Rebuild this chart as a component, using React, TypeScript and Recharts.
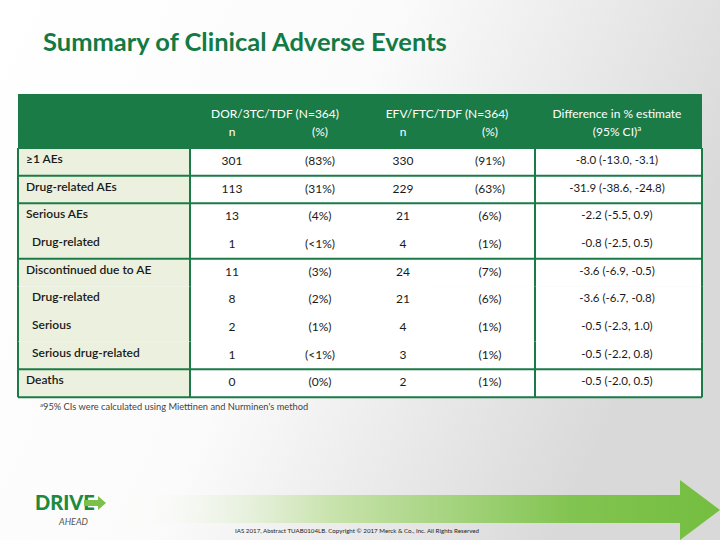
import { Bar, BarChart, XAxis, YAxis } from "recharts";

// table rows
const rowLabels = [
  "≥1 AEs",
  "Drug-related AEs",
  "Serious AEs",
  "Drug-related",
  "Discontinued due to AE",
  "Drug-related",
  "Serious",
  "Serious drug-related",
  "Deaths",
];
const indented = [false, false, false, true, false, true, true, true, false];
const groupStart = [true, true, true, false, true, false, false, false, true];
const dorN = [301, 113, 13, 1, 11, 8, 2, 1, 0];
const dorPct = ["(83%)", "(31%)", "(4%)", "(<1%)", "(3%)", "(2%)", "(1%)", "(<1%)", "(0%)"];
const efvN = [330, 229, 21, 4, 24, 21, 4, 3, 2];
const efvPct = ["(91%)", "(63%)", "(6%)", "(1%)", "(7%)", "(6%)", "(1%)", "(1%)", "(1%)"];
const diffCi = [
  "-8.0 (-13.0, -3.1)",
  "-31.9 (-38.6, -24.8)",
  "-2.2 (-5.5, 0.9)",
  "-0.8 (-2.5, 0.5)",
  "-3.6 (-6.9, -0.5)",
  "-3.6 (-6.7, -0.8)",
  "-0.5 (-2.3, 1.0)",
  "-0.5 (-2.2, 0.8)",
  "-0.5 (-2.0, 0.5)",
];

const GREEN = "#1b7b47";
const LABEL_BG = "#ebf1de";
const FONT = "Lato, 'Open Sans', sans-serif";

// column layout, as fractions of table width (table spans x 18..702)
const T0 = 18;
const TW = 684;
const frac = (px: number) => (px - T0) / TW;
const COL_CENTERS = [232, 320, 403, 490, 617].map(frac);
const LABEL_EDGE = frac(190);
const DIFF_EDGE = frac(535);

const data = rowLabels.map((label, i) => ({
  key: `r${i}`,
  label,
  indent: indented[i],
  top: groupStart[i],
  last: i === rowLabels.length - 1,
  cells: [String(dorN[i]), dorPct[i], String(efvN[i]), efvPct[i], diffCi[i]],
  span: 1,
}));

function RowShape(props: any) {
  const { x, y, width, height } = props;
  const row = props.payload ?? props;
  const X = (f: number) => x + f * width;
  const mid = y + height / 2;
  return (
    <g>
      <rect x={x} y={y} width={width} height={height} fill="#ffffff" />
      <rect x={x} y={y} width={LABEL_EDGE * width} height={height} fill={LABEL_BG} />
      <text
        x={x + (row.indent ? 14 : 8)}
        y={mid - 2}
        dominantBaseline="middle"
        fontFamily={FONT}
        fontSize={12}
        fontWeight={600}
        fill="#1a1a1a"
      >
        {row.label}
      </text>
      {row.cells.map((c: string, j: number) => (
        <text
          key={j}
          x={X(COL_CENTERS[j])}
          y={j === 4 ? mid - 1 : mid}
          textAnchor="middle"
          dominantBaseline="middle"
          fontFamily={FONT}
          fontSize={j === 4 ? 11.5 : 12}
          fill="#1a1a1a"
        >
          {c}
        </text>
      ))}
      {row.top && <line x1={x} x2={x + width} y1={y} y2={y} stroke={GREEN} strokeWidth={2} />}
      {row.last && (
        <line x1={x} x2={x + width} y1={y + height} y2={y + height} stroke={GREEN} strokeWidth={2} />
      )}
      {[0, LABEL_EDGE, DIFF_EDGE, 1].map((f) => (
        <line key={f} x1={X(f)} x2={X(f)} y1={y} y2={y + height} stroke={GREEN} strokeWidth={2} />
      ))}
    </g>
  );
}

function Decor() {
  return (
    <svg width={720} height={540} style={{ position: "absolute", left: 0, top: 0 }}>
      <defs>
        <linearGradient id="bg" x1="0" y1="0" x2="1" y2="0.35">
          <stop offset="0" stopColor="#ffffff" />
          <stop offset="0.5" stopColor="#fbfbfb" />
          <stop offset="1" stopColor="#d9d9d9" />
        </linearGradient>
        <linearGradient id="arrow" x1="0" y1="0" x2="1" y2="0">
          <stop offset="0" stopColor="#ffffff" stopOpacity={0} />
          <stop offset="0.35" stopColor="#c9e3ad" />
          <stop offset="0.75" stopColor="#82c451" />
          <stop offset="1" stopColor="#74be40" />
        </linearGradient>
      </defs>
      <rect width={720} height={540} fill="url(#bg)" />
      <text x={43} y={51} fontFamily={FONT} fontWeight={700} fontSize={25.5} fill="#127a45">
        Summary of Clinical Adverse Events
      </text>

      {/* table header */}
      <rect x={18} y={94} width={684} height={54} fill={GREEN} />
      <g fontFamily={FONT} fontSize={12} fill="#ffffff" textAnchor="middle">
        <text x={275} y={118}>DOR/3TC/TDF (N=364)</text>
        <text x={232} y={136}>n</text>
        <text x={320} y={136}>(%)</text>
        <text x={447} y={118}>EFV/FTC/TDF (N=364)</text>
        <text x={403} y={136}>n</text>
        <text x={490} y={136}>(%)</text>
        <text x={617} y={118}>Difference in % estimate</text>
        <text x={617} y={136}>
          (95% CI)<tspan fontSize={8} dy={-5}>a</tspan>
        </text>
      </g>

      <text x={40} y={410} fontFamily={FONT} fontSize={9.3} fill="#444">
        <tspan fontSize={6} dy={-3}>a</tspan>
        <tspan dy={3}>95% CIs were calculated using Miettinen and Nurminen's method</tspan>
      </text>

      {/* bottom arrow */}
      <polygon points="120,495 680,495 680,480 720,510 680,540 680,523 120,523" fill="url(#arrow)" />

      {/* logo */}
      <text x={35} y={510} fontFamily={FONT} fontWeight={900} fontSize={20} fill="#1d8a3f">
        DRIVE
      </text>
      <polygon points="84,500 98,500 98,496 106,503 98,510 98,506 84,506" fill="#7cc04a" />
      <text x={59} y={525} fontFamily={FONT} fontStyle="italic" fontSize={9} fill="#555">
        AHEAD
      </text>

      <text x={235} y={533} fontFamily={FONT} fontSize={6.2} fill="#222">
        IAS 2017, Abstract TUAB0104LB. Copyright © 2017 Merck &amp; Co., Inc. All Rights Reserved
      </text>
    </svg>
  );
}

export default function App() {
  return (
    <div style={{ position: "absolute", left: 0, top: 0, width: 720, height: 540, overflow: "hidden" }}>
      <Decor />
      <div style={{ position: "absolute", left: 0, top: 0 }}>
        <BarChart
          width={720}
          height={540}
          data={data}
          layout="vertical"
          margin={{ top: 148, right: 18, bottom: 143, left: 18 }}
          barCategoryGap={0}
          barGap={0}
        >
          <XAxis type="number" domain={[0, 1]} hide />
          <YAxis type="category" dataKey="key" hide />
          <Bar dataKey="span" shape={RowShape} isAnimationActive={false} />
        </BarChart>
      </div>
    </div>
  );
}
